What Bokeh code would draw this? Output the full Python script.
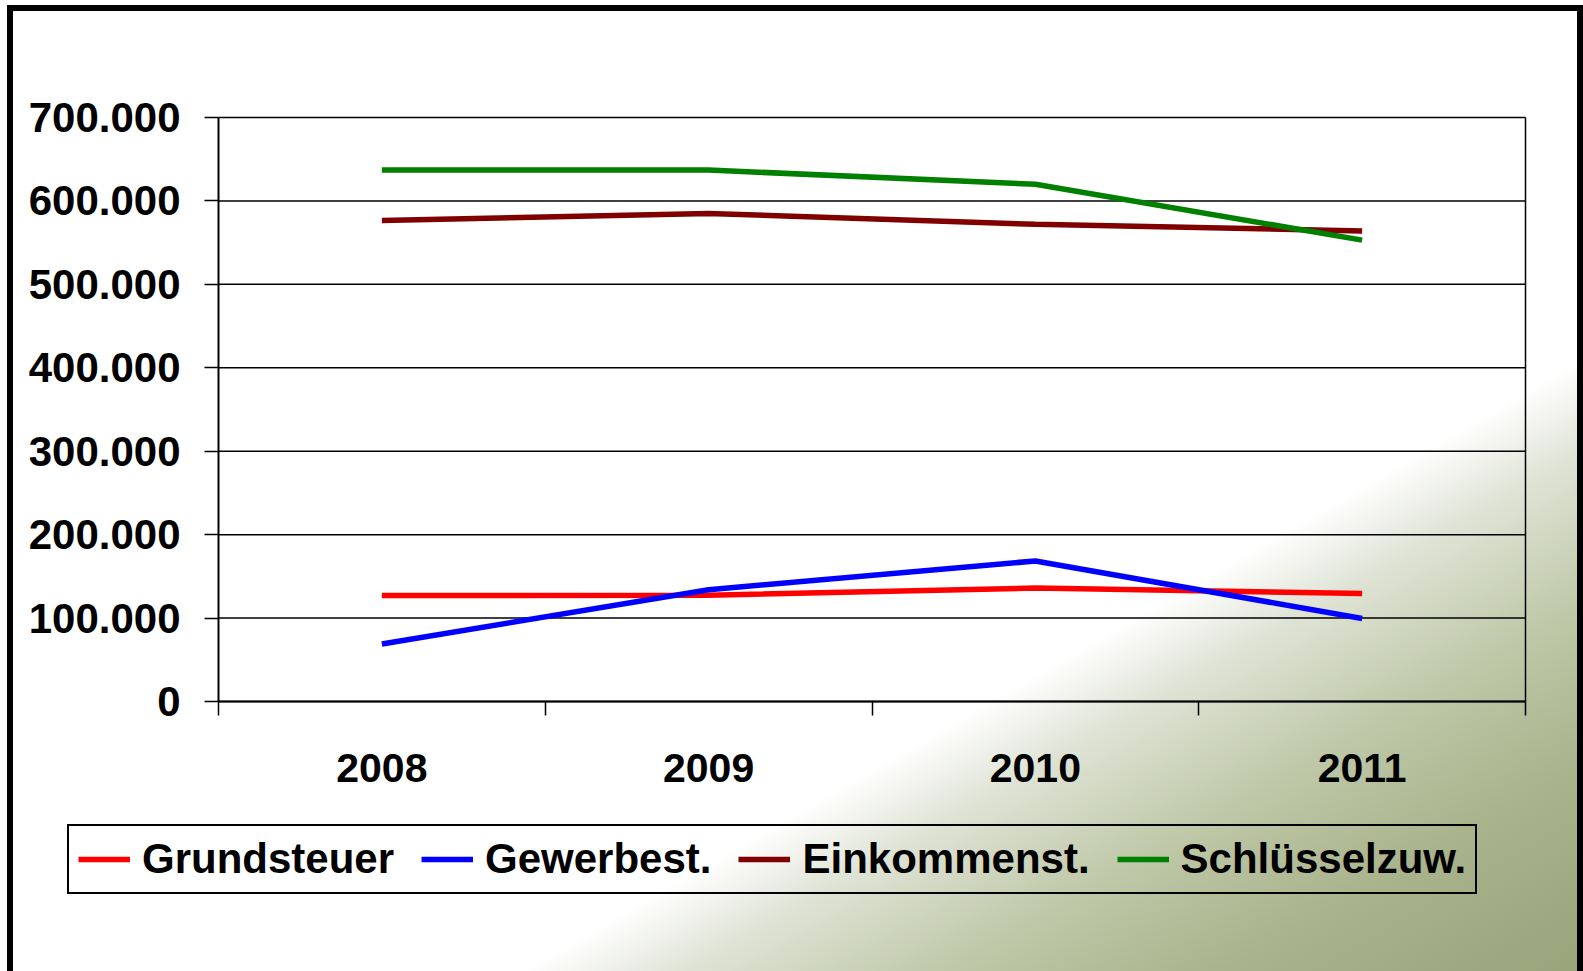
from bokeh.plotting import figure
from bokeh.models import (FixedTicker, CustomJSTickFormatter, Legend, LegendItem, Range1d)
from bokeh.embed import file_html
from bokeh.resources import INLINE

# ---- data ----
years = ["2008", "2009", "2010", "2011"]
grundsteuer = [127000, 127500, 136000, 129500]
gewerbest = [69000, 134000, 168500, 99500]
einkommenst = [576500, 585000, 572000, 564000]
schluesselzuw = [637000, 637000, 620000, 553000]
series_names = ["Grundsteuer", "Gewerbest.", "Einkommenst.", "Schlüsselzuw."]
series_colors = ["#ff0000", "#0000ff", "#800000", "#008000"]
y_ticks = [0, 100000, 200000, 300000, 400000, 500000, 600000, 700000]
y_tick_labels = ["0", "100.000", "200.000", "300.000", "400.000", "500.000", "600.000", "700.000"]

FONT = "Liberation Sans"

W, H = 1583, 971
# pixel placement of the chart box inside the canvas
BOX_L, BOX_R, BOX_T, BOX_B = 218, 1525, 117, 701

n = len(years)
x_pos = [i + 0.5 for i in range(n)]
ymax = y_ticks[-1]

xs = (BOX_R - BOX_L) / n
ys = (BOX_B - BOX_T) / ymax
x_range = Range1d(-BOX_L / xs, n + (W - BOX_R) / xs)
y_range = Range1d(-(H - BOX_B) / ys, ymax + BOX_T / ys)

p = figure(width=W, height=H, output_backend="svg", toolbar_location=None,
           x_range=x_range, y_range=y_range,
           min_border=0, min_border_left=0, min_border_right=0, min_border_top=0, min_border_bottom=0)

p.border_fill_color = None
p.background_fill_color = None
p.outline_line_color = None
p.styles = {
    "background": "linear-gradient(150deg, #ffffff 0%, #ffffff 67.5%, #dfe3d5 72.5%, #bfc8a8 80.5%, #a9b38c 89%, #99a47b 100%)",
    "box-shadow": "inset 7px 5px 0 0 #ffffff, inset 0 4px 0 0 #ffffff, inset 13px 11px 0 0 #000000, inset -6px 0 0 0 #000000",
}
p.xgrid.visible = False
p.ygrid.visible = False

# grid lines and right border of the chart box
p.segment(x0=[0] * len(y_ticks), x1=[n] * len(y_ticks), y0=y_ticks, y1=y_ticks,
          line_color="black", line_width=1.5)
p.segment(x0=[n], x1=[n], y0=[0], y1=[ymax], line_color="black", line_width=1.5)

# x axis
p.xaxis.fixed_location = 0
p.xaxis.bounds = (0, n)
p.xaxis.ticker = FixedTicker(ticks=x_pos, minor_ticks=list(range(n + 1)))
p.xaxis.formatter = CustomJSTickFormatter(args=dict(labels=years),
                                          code="return labels[Math.floor(tick)];")
p.xaxis.major_tick_out = 0
p.xaxis.major_tick_in = 0
p.xaxis.minor_tick_out = 14
p.xaxis.minor_tick_in = 0
p.xaxis.minor_tick_line_color = "black"
p.xaxis.minor_tick_line_width = 1.5
p.xaxis.axis_line_color = "black"
p.xaxis.axis_line_width = 2
p.xaxis.major_label_standoff = 38
p.xaxis.major_label_text_font = FONT
p.xaxis.major_label_text_font_size = "41px"
p.xaxis.major_label_text_font_style = "bold"
p.xaxis.major_label_text_color = "black"

# y axis
p.yaxis.fixed_location = 0
p.yaxis.bounds = (0, ymax)
p.yaxis.ticker = FixedTicker(ticks=y_ticks)
p.yaxis.major_label_overrides = {t: l for t, l in zip(y_ticks, y_tick_labels)}
p.yaxis.major_tick_out = 14
p.yaxis.major_tick_in = 0
p.yaxis.major_tick_line_color = "black"
p.yaxis.major_tick_line_width = 1.5
p.yaxis.minor_tick_line_color = None
p.yaxis.axis_line_color = "black"
p.yaxis.axis_line_width = 2
p.yaxis.major_label_standoff = 24
p.yaxis.major_label_text_font = FONT
p.yaxis.major_label_text_font_size = "42px"
p.yaxis.major_label_text_font_style = "bold"
p.yaxis.major_label_text_color = "black"

items = []
for name, vals, col in zip(series_names, [grundsteuer, gewerbest, einkommenst, schluesselzuw], series_colors):
    r = p.line(x_pos, vals, line_color=col, line_width=5.5)
    items.append(LegendItem(label=name, renderers=[r]))

legend = Legend(items=items, orientation="horizontal", location=(67, H - 894),
                label_text_font=FONT, label_text_font_size="42px", label_text_font_style="bold",
                label_text_color="black", glyph_width=52, glyph_height=34, label_height=34,
                label_standoff=12, spacing=27, padding=9, margin=0,
                border_line_color="black", border_line_width=2, border_line_alpha=1.0,
                background_fill_alpha=0)
p.add_layout(legend, "center")

open("out.html", "w").write(file_html(p, INLINE))
